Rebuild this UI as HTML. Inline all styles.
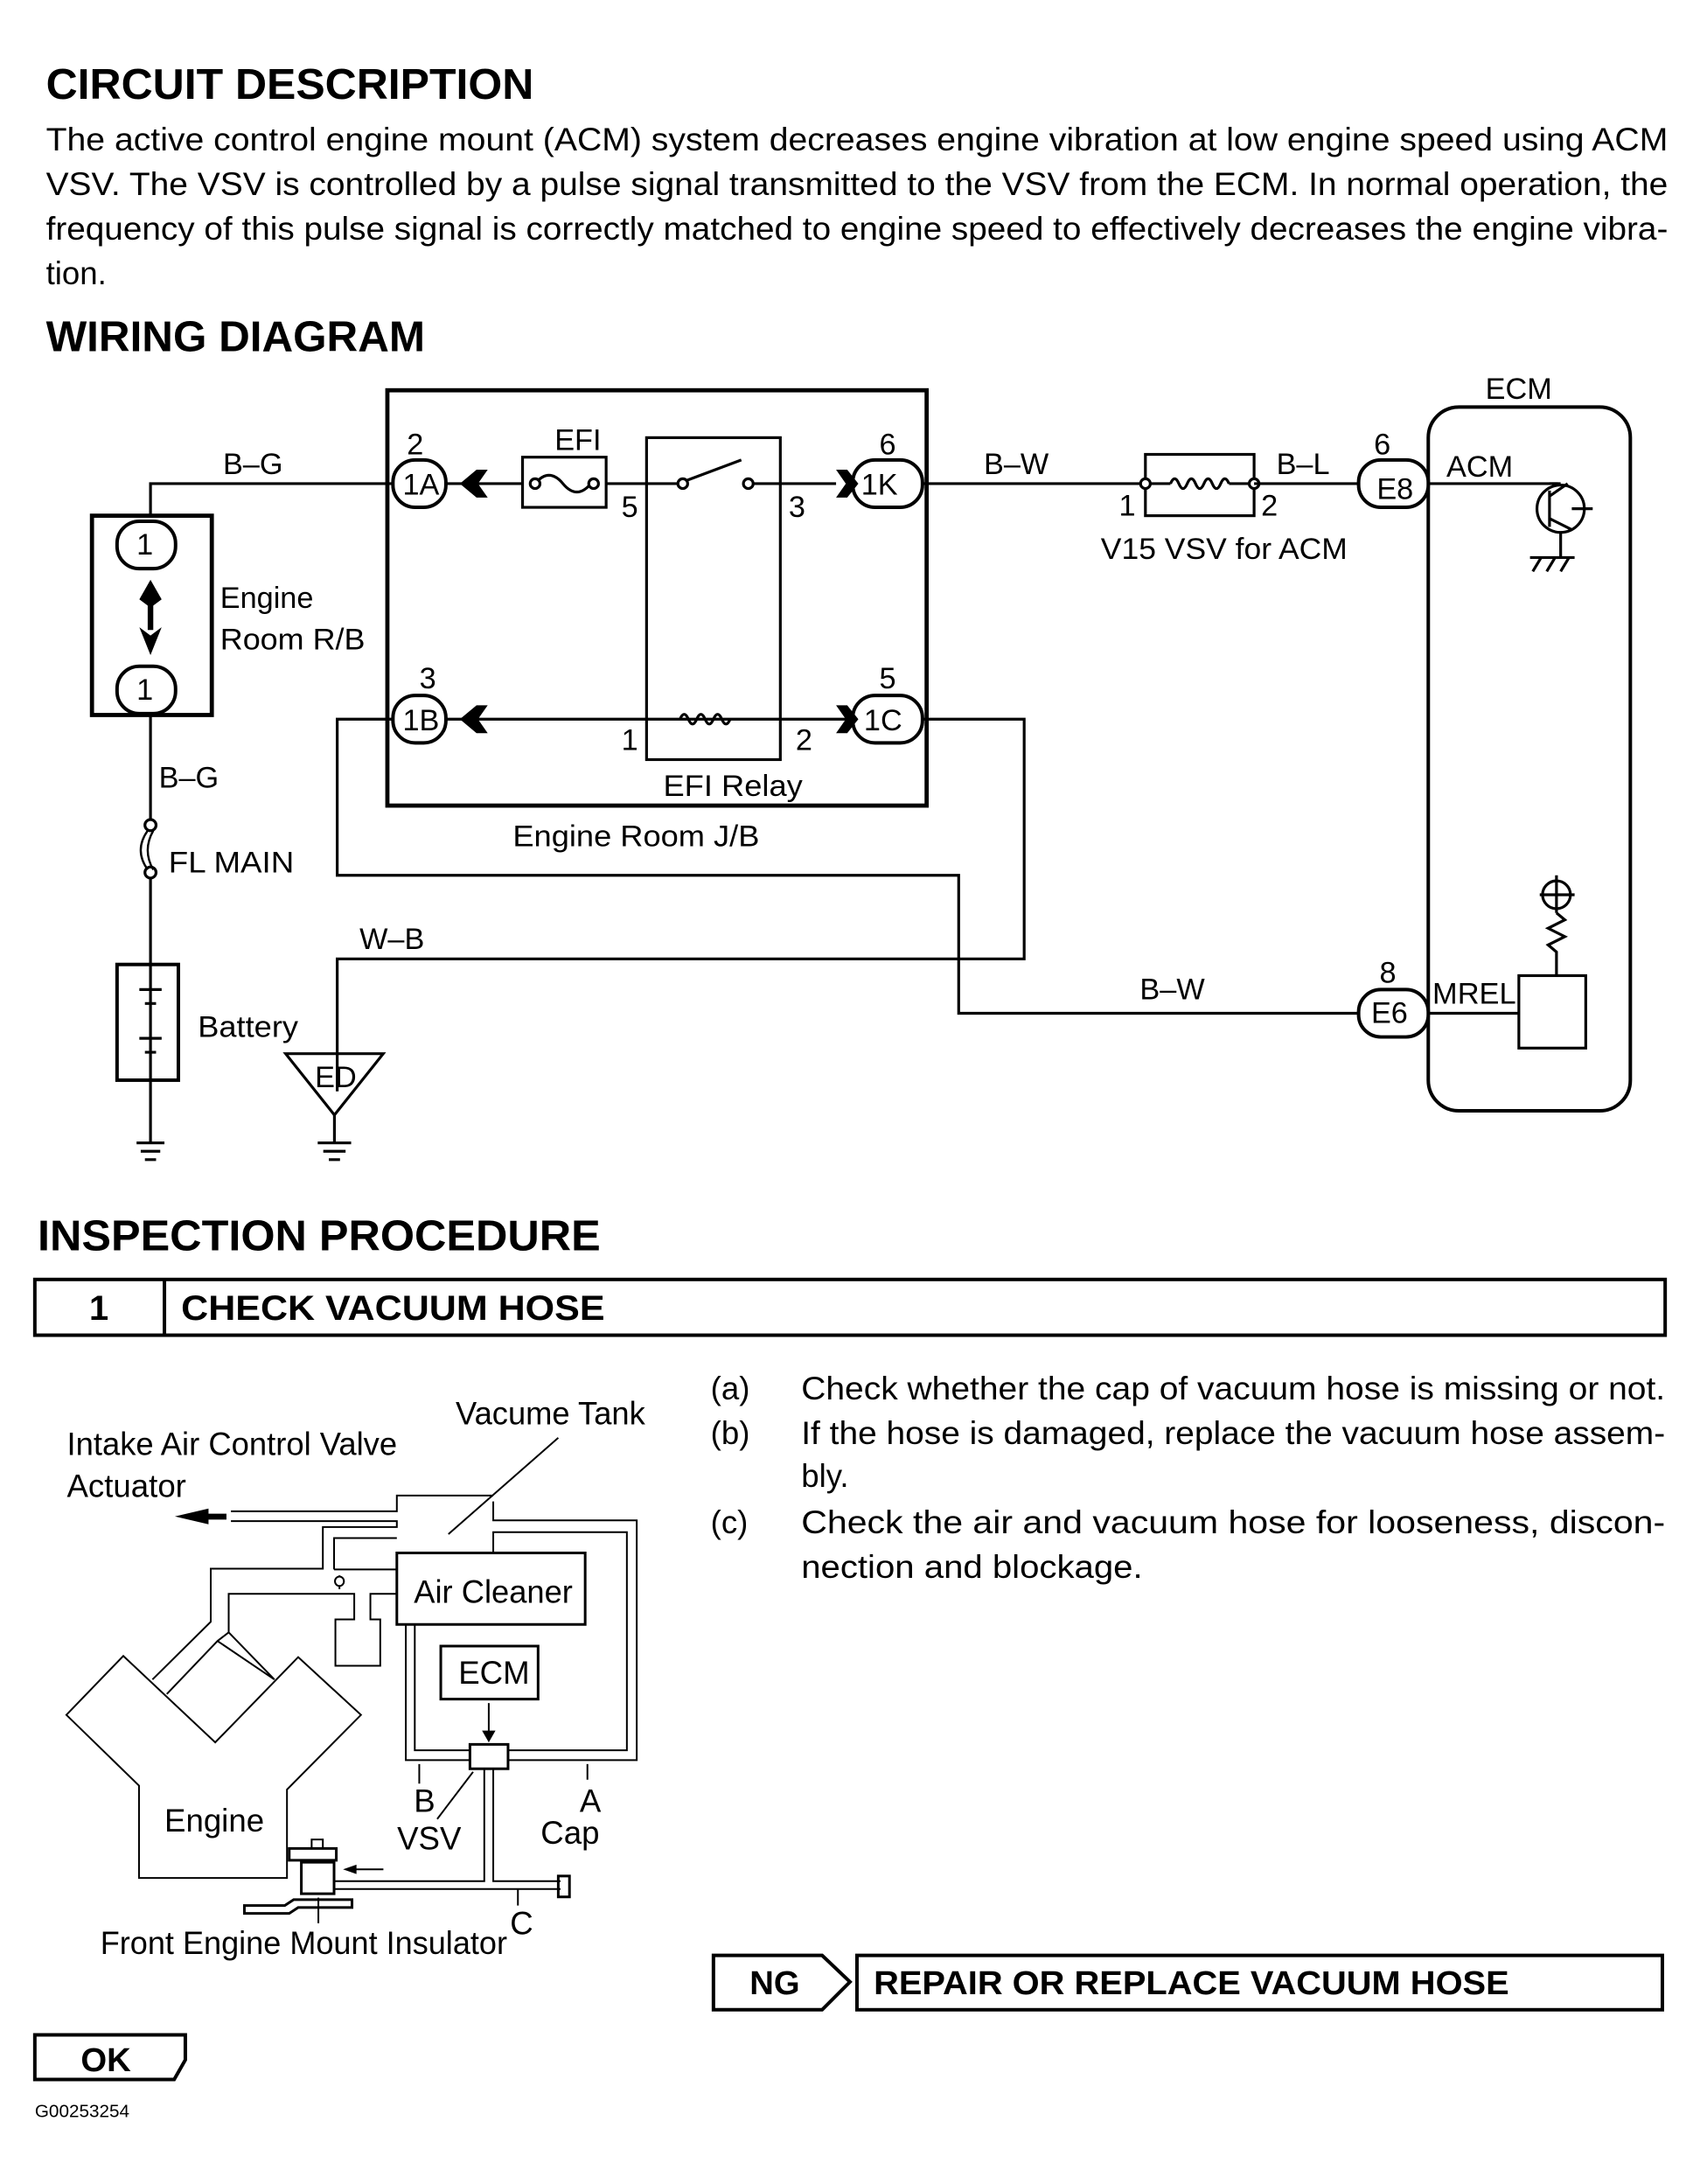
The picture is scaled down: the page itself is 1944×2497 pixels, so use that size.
<!DOCTYPE html>
<html><head><meta charset="utf-8"><style>
html,body{margin:0;padding:0;background:#fff;}
svg{display:block;}
text{font-family:"Liberation Sans",sans-serif;fill:#000;}
.h{font-weight:bold;font-size:31px;}
.p{font-size:23px;}
.s{font-size:21.5px;}
</style></head><body>
<svg width="1944" height="2497" viewBox="0 0 1220 1567" xmlns="http://www.w3.org/2000/svg">
<rect width="1220" height="1567" fill="#fff"/>
<text class="h" x="33" y="71" textLength="350" lengthAdjust="spacingAndGlyphs">CIRCUIT DESCRIPTION</text>
<text class="p" x="33" y="108" textLength="1164" lengthAdjust="spacingAndGlyphs">The active control engine mount (ACM) system decreases engine vibration at low engine speed using ACM</text>
<text class="p" x="33" y="140" textLength="1164" lengthAdjust="spacingAndGlyphs">VSV. The VSV is controlled by a pulse signal transmitted to the VSV from the ECM. In normal operation, the</text>
<text class="p" x="33" y="172" textLength="1164" lengthAdjust="spacingAndGlyphs">frequency of this pulse signal is correctly matched to engine speed to effectively decreases the engine vibra-</text>
<text class="p" x="33" y="204">tion.</text>
<text class="h" x="33" y="252" textLength="272" lengthAdjust="spacingAndGlyphs">WIRING DIAGRAM</text>

<g stroke="#000" stroke-width="2" fill="none">
<rect x="278" y="280" width="387" height="298" stroke-width="3"/>
<rect x="464" y="314" width="96" height="231"/>
<rect x="375" y="328" width="60" height="36"/>
<path d="M384 347 q10 -12 20 0 q10 12 20 0"/>
<circle cx="384" cy="347" r="3.5" fill="#fff"/><circle cx="426" cy="347" r="3.5" fill="#fff"/>
<path d="M108 370 V347 H282"/>
<path d="M320 347 H375 M435 347 H490 M537 347 H600"/>
<circle cx="490" cy="347" r="3.5" fill="#fff"/><circle cx="537" cy="347" r="3.5" fill="#fff"/>
<path d="M492 345 L532 330"/>
<path d="M662 347 H820"/>
<rect x="822" y="326" width="78" height="44"/>
<path d="M822 347 H840 M882 347 H900"/>
<path d="M840 347 q3 -7 6 0 q3 7 6 0 q3 -7 6 0 q3 7 6 0 q3 -7 6 0 q3 7 6 0 q3 -7 6 0"/>
<circle cx="822" cy="347" r="3.5" fill="#fff"/><circle cx="900" cy="347" r="3.5" fill="#fff"/>
<path d="M900 347 H975 M1025 347 H1118"/>
<rect x="1025" y="292" width="145" height="505" rx="22" stroke-width="2.5"/>
<circle cx="1120" cy="365" r="17"/>
<path d="M1112 352 V378 M1112 347 H1120 M1112 356 L1125 347 M1112 372 L1128 380 M1128 365 H1143 M1120 382 V400 M1098 400 H1130 M1100 410 L1106 400 M1110 410 L1116 400 M1120 410 L1126 400"/>
<circle cx="1117" cy="642" r="10"/><path d="M1105 642 H1130 M1117 628 V655 M1117 655 l6 5 -12 6 12 6 -12 6 6 5 V700"/>
<rect x="1090" y="700" width="48" height="52"/>
<path d="M1025 727 H1090"/>
<rect x="66" y="370" width="86" height="143" stroke-width="3"/>
<path d="M108 512 V590 M108 628 V692"/>
<circle cx="108" cy="592" r="4" fill="#fff"/><circle cx="108" cy="626" r="4" fill="#fff"/>
<path d="M106 596 q-10 14 0 28 M110 596 q-8 14 0 28" stroke-width="1.5"/>
<rect x="84" y="692" width="44" height="83" stroke-width="2.5"/>
<path d="M108 692 V775 M100 710 H116 M104 720 H112 M100 745 H116 M104 755 H112" stroke-width="2"/>
<path d="M108 775 V820 M98 820 H118 M101 826 H115 M104 832 H112"/>
<path d="M320 516 H612 M662 516 H735 V688 H242 V783"/>
<path d="M282 516 H242 V628 H688 V727 H975"/>
<path d="M488 516 q3 -7 6 0 q3 7 6 0 q3 -7 6 0 q3 7 6 0 q3 -7 6 0 q3 7 6 0"/>
<path d="M205 756 H275 L240 800 Z"/>
<path d="M240 800 V820 M228 820 H252 M232 826 H248 M236 832 H244"/>
</g>
<g stroke="#000" stroke-width="2.5" fill="#fff">
<rect x="282" y="330" width="38" height="34" rx="16"/>
<rect x="612" y="330" width="50" height="34" rx="16"/>
<rect x="282" y="499" width="38" height="34" rx="16"/>
<rect x="612" y="499" width="50" height="34" rx="16"/>
<rect x="975" y="330" width="50" height="34" rx="16"/>
<rect x="975" y="710" width="50" height="34" rx="16"/>
<rect x="84" y="374" width="42" height="34" rx="16"/>
<rect x="84" y="478" width="42" height="34" rx="16"/>
</g>
<g fill="#000">
<path d="M330 347 l12 -10 h8 l-7 10 7 10 h-8 z"/>
<path d="M330 516 l12 -10 h8 l-7 10 7 10 h-8 z"/>
<path d="M600 337 h8 l8 10 -8 10 h-8 l7 -10 z"/>
<path d="M600 506 h8 l8 10 -8 10 h-8 l7 -10 z"/>
<path d="M100 430 l8 -14 8 14 -8 6 z"/>
<path d="M100 450 l8 6 8 -6 -8 20 z"/>
<rect x="106" y="430" width="4" height="22"/>
</g>
<g class="s">
<text x="160" y="340">B–G</text><text x="292" y="326">2</text><text x="289" y="355">1A</text>
<text x="398" y="323">EFI</text><text x="446" y="371">5</text><text x="566" y="371">3</text>
<text x="631" y="326">6</text><text x="618" y="355">1K</text>
<text x="706" y="340">B–W</text><text x="803" y="370">1</text><text x="905" y="370">2</text>
<text x="916" y="340">B–L</text><text x="986" y="326">6</text><text x="988" y="358">E8</text>
<text x="1066" y="286">ECM</text><text x="1038" y="342">ACM</text>
<text x="790" y="401" textLength="177" lengthAdjust="spacingAndGlyphs">V15 VSV for ACM</text>
<text x="98" y="398">1</text><text x="98" y="502">1</text>
<text x="158" y="436">Engine</text><text x="158" y="466" textLength="104" lengthAdjust="spacingAndGlyphs">Room R/B</text>
<text x="301" y="494">3</text><text x="289" y="524">1B</text>
<text x="446" y="538">1</text><text x="571" y="538">2</text>
<text x="631" y="494">5</text><text x="620" y="524">1C</text>
<text x="476" y="571" textLength="100" lengthAdjust="spacingAndGlyphs">EFI Relay</text>
<text x="368" y="607" textLength="177" lengthAdjust="spacingAndGlyphs">Engine Room J/B</text>
<text x="114" y="565">B–G</text><text x="121" y="626" textLength="90" lengthAdjust="spacingAndGlyphs">FL MAIN</text>
<text x="258" y="681">W–B</text><text x="142" y="744" textLength="72" lengthAdjust="spacingAndGlyphs">Battery</text>
<text x="226" y="780">ED</text>
<text x="818" y="717">B–W</text><text x="990" y="705">8</text><text x="984" y="734">E6</text>
<text x="1028" y="720" textLength="60" lengthAdjust="spacingAndGlyphs">MREL</text>
</g>

<text class="h" x="27" y="897" textLength="404" lengthAdjust="spacingAndGlyphs">INSPECTION PROCEDURE</text>
<g stroke="#000" fill="none">
<rect x="25" y="918" width="1170" height="40" stroke-width="2.5"/>
<path d="M118 918 V958" stroke-width="2.5"/>
</g>
<text x="64" y="947" style="font-size:25px;font-weight:bold">1</text>
<text x="130" y="947" style="font-size:25px;font-weight:bold" textLength="304" lengthAdjust="spacingAndGlyphs">CHECK VACUUM HOSE</text>

<g class="p">
<text x="510" y="1004">(a)</text><text x="575" y="1004" textLength="620" lengthAdjust="spacingAndGlyphs">Check whether the cap of vacuum  hose is missing or not.</text>
<text x="510" y="1036">(b)</text><text x="575" y="1036" textLength="620" lengthAdjust="spacingAndGlyphs">If the hose is damaged, replace the vacuum hose assem-</text>
<text x="575" y="1067">bly.</text>
<text x="510" y="1100">(c)</text><text x="575" y="1100" textLength="620" lengthAdjust="spacingAndGlyphs">Check the air and vacuum hose for looseness, discon-</text>
<text x="575" y="1132" textLength="245" lengthAdjust="spacingAndGlyphs">nection and blockage.</text>
</g>

<g transform="translate(0,972.4) scale(0.3218,0.282)" fill="none" stroke="#000">
<g stroke-width="2">
<path vector-effect="non-scaling-stroke" d="M515 397 H885 V357 H1100 M1100 372 V420 H1420 V1030 H1135 M1100 503 V450 H1398 V1005 H1135"/>
<path vector-effect="non-scaling-stroke" d="M515 422 H885 V437 H720 V543 H470 V678 L340 825"/>
<path vector-effect="non-scaling-stroke" d="M745 545 V465 H885 M745 545 H885"/>
<path vector-effect="non-scaling-stroke" d="M510 705 V607 H790 V672 H748 V790 H848 V672 H826 V607 H885"/>
<path vector-effect="non-scaling-stroke" d="M757 560 V595"/>
<ellipse vector-effect="non-scaling-stroke" cx="757" cy="575" rx="10" ry="12" fill="#fff"/>
<rect vector-effect="non-scaling-stroke" x="885" y="503" width="420" height="182" stroke-width="3"/>
<path vector-effect="non-scaling-stroke" d="M148 915 L275 765 L480 985 L665 768 L805 915 L640 1105 V1330 H310 V1095 Z"/>
<path vector-effect="non-scaling-stroke" d="M372 862 L485 727 L612 825 M510 705 L612 825 M485 727 L510 705"/>
<path vector-effect="non-scaling-stroke" d="M905 685 V1030 H1048 M925 685 V1005 H1048"/>
<rect vector-effect="non-scaling-stroke" x="1048" y="990" width="85" height="62" stroke-width="3"/>
<rect vector-effect="non-scaling-stroke" x="983" y="740" width="217" height="135" stroke-width="3"/>
<path vector-effect="non-scaling-stroke" d="M1090 885 V965"/>
<path vector-effect="non-scaling-stroke" d="M1080 1052 V1338 H745 M1100 1052 V1338 H1250 M745 1358 H1250"/>
<rect vector-effect="non-scaling-stroke" x="1245" y="1325" width="25" height="53" stroke-width="3"/>
<path vector-effect="non-scaling-stroke" d="M935 1040 V1090 M1310 1040 V1080 M1155 1358 V1400 M975 1180 L1055 1060 M1000 455 L1245 210"/>
<rect vector-effect="non-scaling-stroke" x="645" y="1255" width="105" height="30" stroke-width="3"/>
<rect vector-effect="non-scaling-stroke" x="695" y="1232" width="25" height="23"/>
<rect vector-effect="non-scaling-stroke" x="672" y="1290" width="73" height="80" stroke-width="3"/>
<path vector-effect="non-scaling-stroke" d="M545 1400 H635 L655 1385 H785 V1405 H665 L645 1420 H545 Z" stroke-width="3"/>
<path vector-effect="non-scaling-stroke" d="M710 1380 V1445 M855 1308 H790"/>
</g>
<path d="M390 410 L465 390 V430 Z M460 403 H505 V418 H460 Z M1075 955 H1105 L1090 985 Z M765 1308 L795 1296 V1320 Z" fill="#000" stroke="none"/>
</g>
<g class="p">
<text x="327" y="1022" textLength="136" lengthAdjust="spacingAndGlyphs">Vacume Tank</text>
<text x="48" y="1044" textLength="237" lengthAdjust="spacingAndGlyphs">Intake Air Control Valve</text>
<text x="48" y="1074">Actuator</text>
<text x="297" y="1150" textLength="114" lengthAdjust="spacingAndGlyphs">Air Cleaner</text>
<text x="329" y="1208">ECM</text>
<text x="118" y="1314">Engine</text>
<text x="297" y="1300">B</text><text x="416" y="1300">A</text>
<text x="285" y="1327">VSV</text><text x="388" y="1323">Cap</text>
<text x="366" y="1388">C</text>
<text x="72" y="1402" textLength="292" lengthAdjust="spacingAndGlyphs">Front Engine Mount Insulator</text>
</g>

<g stroke="#000" stroke-width="2.5" fill="none">
<path d="M512 1403 H590 L610 1422 L590 1442 H512 Z"/>
<rect x="615" y="1403" width="578" height="39"/>
<path d="M25 1460 H133 V1478 L125 1492 H25 Z"/>
</g>
<text x="538" y="1431" style="font-size:24px;font-weight:bold">NG</text>
<text x="627" y="1431" style="font-size:24px;font-weight:bold" textLength="456" lengthAdjust="spacingAndGlyphs">REPAIR OR REPLACE VACUUM HOSE</text>
<text x="58" y="1486" style="font-size:24px;font-weight:bold">OK</text>
<text x="25" y="1519" style="font-size:13px">G00253254</text>
</svg>
</body></html>
